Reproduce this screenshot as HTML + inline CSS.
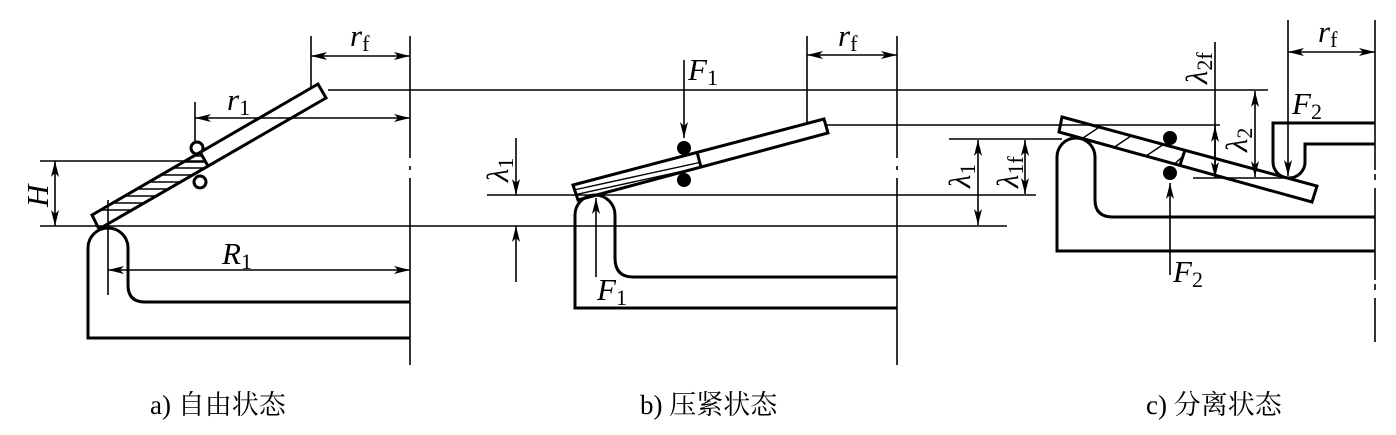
<!DOCTYPE html>
<html><head><meta charset="utf-8"><style>
html,body{margin:0;padding:0;background:#fff;}
svg{display:block;}
.t{font-family:"Liberation Serif",serif;font-style:italic;font-size:31px;fill:#000;}
.s{font-style:normal;font-size:22px;}
.cap{font-family:"Liberation Serif","Noto Serif CJK SC",serif;font-size:27px;fill:#000;}
</style></head><body>
<svg width="1396" height="435" viewBox="0 0 1396 435" xmlns="http://www.w3.org/2000/svg">
<defs>
<marker id="ar" viewBox="0 0 16 8" refX="16" refY="4" markerWidth="16" markerHeight="8" markerUnits="userSpaceOnUse" orient="auto-start-reverse">
<path d="M0,0 L16,4 L0,8 L4,4 z" fill="#000"/></marker>
<clipPath id="ca"><polygon points="92,215 200,152 208,166 99,229"/></clipPath>
<clipPath id="cb"><polygon points="573,185 697,152 701,167 578,200"/></clipPath>
<clipPath id="cc"><polygon points="1062,117 1185,150 1180,165 1059,132"/></clipPath>
</defs>
<g stroke="#000" fill="none">
<g stroke-width="1.6">
<line x1="328" y1="90" x2="1268" y2="90"/>
<line x1="825" y1="125" x2="1220" y2="125"/>
<line x1="40" y1="161" x2="205" y2="161"/>
<line x1="40" y1="226" x2="1007" y2="226"/>
<line x1="487" y1="195" x2="1036" y2="195"/>
<line x1="949" y1="139" x2="1062" y2="139"/>
<line x1="1193" y1="178" x2="1290" y2="178"/>
<line x1="410" y1="36" x2="410" y2="158"/><line x1="410" y1="166" x2="410" y2="170"/><line x1="410" y1="178" x2="410" y2="365"/>
<line x1="897" y1="36" x2="897" y2="158"/><line x1="897" y1="166" x2="897" y2="170"/><line x1="897" y1="178" x2="897" y2="365"/>
<line x1="1375" y1="20" x2="1375" y2="170"/><line x1="1375" y1="174" x2="1375" y2="180"/><line x1="1375" y1="188" x2="1375" y2="280"/><line x1="1375" y1="284" x2="1375" y2="290"/><line x1="1375" y1="298" x2="1375" y2="342"/>
<line x1="311" y1="36" x2="311" y2="88"/>
<line x1="311" y1="56" x2="410" y2="56" marker-start="url(#ar)" marker-end="url(#ar)"/>
<line x1="195" y1="102" x2="195" y2="142"/>
<line x1="195" y1="118" x2="410" y2="118" marker-start="url(#ar)" marker-end="url(#ar)"/>
<line x1="55" y1="161" x2="55" y2="226" marker-start="url(#ar)" marker-end="url(#ar)"/>
<line x1="108" y1="200" x2="108" y2="295"/>
<line x1="108" y1="270" x2="410" y2="270" marker-start="url(#ar)" marker-end="url(#ar)"/>
<line x1="807" y1="36" x2="807" y2="123"/>
<line x1="807" y1="55" x2="897" y2="55" marker-start="url(#ar)" marker-end="url(#ar)"/>
<line x1="684" y1="60" x2="684" y2="138" marker-end="url(#ar)"/>
<line x1="516" y1="138" x2="516" y2="195" marker-end="url(#ar)"/>
<line x1="516" y1="282" x2="516" y2="226" marker-end="url(#ar)"/>
<line x1="596" y1="277" x2="596" y2="198" marker-end="url(#ar)"/>
<line x1="1288" y1="20" x2="1288" y2="52"/>
<line x1="1288" y1="52" x2="1375" y2="52" marker-start="url(#ar)" marker-end="url(#ar)"/>
<line x1="1288" y1="52" x2="1288" y2="176" marker-end="url(#ar)"/>
<line x1="1215" y1="42" x2="1215" y2="126"/>
<line x1="1215" y1="178" x2="1215" y2="126" marker-end="url(#ar)"/>
<line x1="1215" y1="126" x2="1215" y2="178" marker-end="url(#ar)"/>
<line x1="1255" y1="91" x2="1255" y2="177" marker-start="url(#ar)" marker-end="url(#ar)"/>
<line x1="978" y1="140" x2="978" y2="225" marker-start="url(#ar)" marker-end="url(#ar)"/>
<line x1="1025" y1="140" x2="1025" y2="194" marker-start="url(#ar)" marker-end="url(#ar)"/>
<line x1="1170" y1="275" x2="1170" y2="183" marker-end="url(#ar)"/>
</g>
<g stroke-width="1.4">
<g clip-path="url(#ca)"><line x1="80" y1="156" x2="220" y2="156"/><line x1="80" y1="162" x2="220" y2="162"/><line x1="80" y1="168" x2="220" y2="168"/><line x1="80" y1="175" x2="220" y2="175"/><line x1="80" y1="182" x2="220" y2="182"/><line x1="80" y1="189" x2="220" y2="189"/><line x1="80" y1="196" x2="220" y2="196"/><line x1="80" y1="203" x2="220" y2="203"/><line x1="80" y1="210" x2="220" y2="210"/></g>
<g clip-path="url(#cb)"><line x1="560" y1="193" x2="720" y2="158"/><line x1="560" y1="198" x2="720" y2="163"/><line x1="560" y1="203" x2="720" y2="168"/></g>
<g clip-path="url(#cc)"><line x1="1080" y1="140" x2="1110" y2="120"/><line x1="1110" y1="150" x2="1140" y2="130"/><line x1="1140" y1="160" x2="1170" y2="140"/><line x1="1170" y1="168" x2="1190" y2="150"/></g>
</g>
<g stroke-width="3" stroke-linejoin="miter">
<polygon points="92,215 318,84 326,98 99,229"/>
<line x1="200" y1="152" x2="208" y2="166"/>
<polygon points="573,185 824,119 828,133 578,200"/>
<line x1="697" y1="152" x2="701" y2="167"/>
<polygon points="1062,117 1317,186 1312,202 1059,132"/>
<line x1="1185" y1="150" x2="1180" y2="165"/>
<path d="M410,302 H145 Q128,302 128,285 V248 A20,20 0 0 0 88,248 V338 H410"/>
<path d="M897,277 H633 Q615,277 615,258 V215 A20,20 0 0 0 575,215 V308 H897"/>
<path d="M1375,217 H1113 Q1095,217 1095,200 V157 A19,19 0 0 0 1057,157 V251 H1375"/>
<path d="M1375,123 H1273 V162 A16,16 0 0 0 1305,162 V144 H1375"/>
<circle cx="197" cy="148" r="6"/>
<circle cx="200" cy="182" r="6"/>
</g>
<g fill="#000" stroke="none">
<circle cx="684" cy="148" r="7"/><circle cx="684" cy="180" r="7"/>
<circle cx="1170" cy="138" r="7"/><circle cx="1170" cy="173" r="7"/>
</g>
</g>
<text class="t" x="350" y="46">r<tspan class="s" dy="5">f</tspan></text>
<text class="t" x="227" y="110">r<tspan class="s" dy="5">1</tspan></text>
<text class="t" x="222" y="264">R<tspan class="s" dy="5">1</tspan></text>
<text class="t" transform="translate(48,207) rotate(-90)">H</text>
<text class="t" x="838" y="46">r<tspan class="s" dy="5">f</tspan></text>
<text class="t" x="688" y="80">F<tspan class="s" dy="5">1</tspan></text>
<text class="t" x="597" y="300">F<tspan class="s" dy="5">1</tspan></text>
<text class="t" transform="translate(508,182) rotate(-90)">λ<tspan class="s" dy="5">1</tspan></text>
<text class="t" x="1318" y="42">r<tspan class="s" dy="5">f</tspan></text>
<text class="t" x="1292" y="114">F<tspan class="s" dy="5">2</tspan></text>
<text class="t" x="1173" y="282">F<tspan class="s" dy="5">2</tspan></text>
<text class="t" transform="translate(1207,84) rotate(-90)">λ<tspan class="s" dy="5">2f</tspan></text>
<text class="t" transform="translate(1247,152) rotate(-90)">λ<tspan class="s" dy="5">2</tspan></text>
<text class="t" transform="translate(970,188) rotate(-90)">λ<tspan class="s" dy="5">1</tspan></text>
<text class="t" transform="translate(1018,188) rotate(-90)">λ<tspan class="s" dy="5">1f</tspan></text>
<text class="cap" x="150" y="414">a) 自由状态</text>
<text class="cap" x="640" y="414">b) 压紧状态</text>
<text class="cap" x="1146" y="414">c) 分离状态</text>
</svg>
</body></html>
